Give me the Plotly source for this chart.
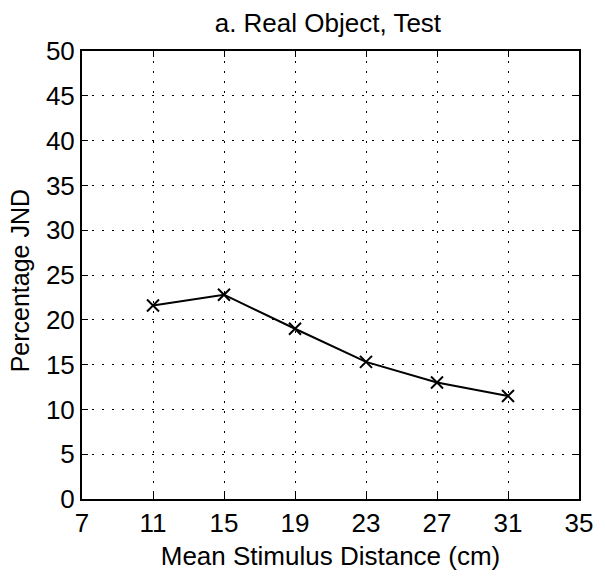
import plotly.graph_objects as go

distance_cm = [11, 15, 19, 23, 27, 31]
percentage_jnd = [21.6, 22.8, 19.0, 15.3, 13.0, 11.5]
x_ticks = [7, 11, 15, 19, 23, 27, 31, 35]
y_ticks = [0, 5, 10, 15, 20, 25, 30, 35, 40, 45, 50]

fig = go.Figure()
fig.add_trace(go.Scatter(
    x=distance_cm, y=percentage_jnd, mode="lines+markers",
    line=dict(color="black", width=2),
    marker=dict(symbol="x-thin", size=12, line=dict(color="black", width=2)),
    showlegend=False, hoverinfo="skip",
))

font = "Liberation Sans, Arial, Helvetica, sans-serif"
axis_common = dict(
    showline=True, linecolor="black", linewidth=2, mirror="ticks",
    showgrid=True, gridcolor="black", gridwidth=1, griddash="2px,8px",
    ticks="inside", ticklen=6, tickcolor="black", tickwidth=1,
    zeroline=False, tickfont=dict(family=font, size=26, color="black"),
)
fig.update_xaxes(range=[7, 35], tickvals=x_ticks, **axis_common,
                 title=dict(text="Mean Stimulus Distance (cm)", font=dict(family=font, size=26, color="black"), standoff=10))
fig.update_yaxes(range=[0, 50], tickvals=y_ticks, **axis_common)

fig.add_annotation(text="Percentage JND", xref="paper", yref="paper",
                   x=(19 - 82) / 505, y=0.488, xanchor="center", yanchor="middle",
                   textangle=-90, showarrow=False,
                   font=dict(family=font, size=25, color="black"))

fig.update_layout(
    width=605, height=578,
    margin=dict(l=82, r=18, t=51, b=78),
    paper_bgcolor="white", plot_bgcolor="white",
    title=dict(text="a. Real Object, Test", x=0.542, xanchor="center", y=1 - 23 / 578, yanchor="middle",
               font=dict(family=font, size=26, color="black")),
)
fig.write_html("out.html", config={"displayModeBar": False, "staticPlot": True},
               post_script="document.body.style.margin='0';document.body.style.overflow='hidden';")
